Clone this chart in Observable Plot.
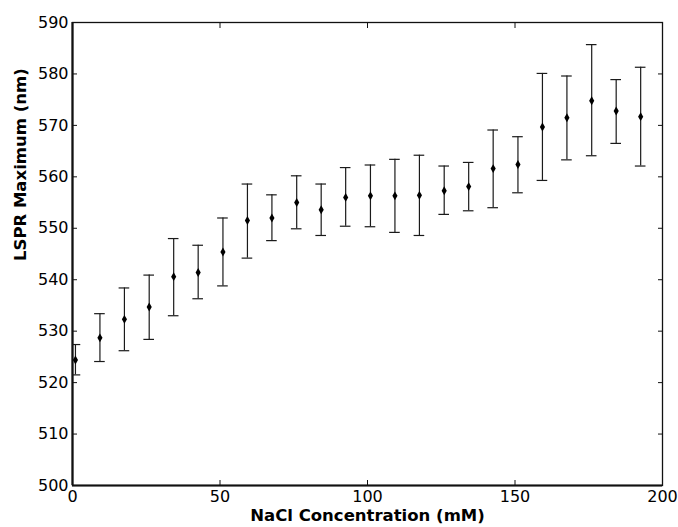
<!DOCTYPE html>
<html>
<head>
<meta charset="utf-8">
<script src="https://cdn.jsdelivr.net/npm/d3@7"></script>
<script src="https://cdn.jsdelivr.net/npm/@observablehq/plot@0.6"></script>
<style>
  html, body { margin: 0; padding: 0; background: #fff; }
</style>
</head>
<body>
<div id="chart"></div>
<script>
const concentration = [1, 9.3, 17.6, 26, 34.3, 42.6, 51, 59.3, 67.6, 76, 84.3, 92.6, 101, 109.3, 117.6, 126, 134.3, 142.6, 151, 159.3, 167.6, 176, 184.3, 192.6];
const lsprMean = [524.4, 528.7, 532.3, 534.7, 540.6, 541.4, 545.4, 551.5, 552.0, 555.0, 553.6, 556.0, 556.3, 556.3, 556.4, 557.3, 558.1, 561.6, 562.4, 569.7, 571.5, 574.8, 572.8, 571.7];
const lsprUpper = [527.4, 533.4, 538.4, 540.9, 548.0, 546.7, 552.0, 558.6, 556.5, 560.2, 558.6, 561.8, 562.3, 563.4, 564.2, 562.1, 562.8, 569.1, 567.8, 580.1, 579.6, 585.7, 578.9, 581.3];
const lsprLower = [521.5, 524.1, 526.2, 528.4, 533.0, 536.3, 538.8, 544.2, 547.6, 549.9, 548.6, 550.4, 550.3, 549.2, 548.6, 552.7, 553.4, 554.0, 556.9, 559.3, 563.3, 564.1, 566.5, 562.1];
const xTicks = [0, 50, 100, 150, 200];
const yTicks = [500, 510, 520, 530, 540, 550, 560, 570, 580, 590];
const xLabel = "NaCl Concentration (mM)";
const yLabel = "LSPR Maximum (nm)";

const data = concentration.map((x, i) => ({x, y: lsprMean[i], lo: lsprLower[i], hi: lsprUpper[i]}));
const capHalf = 1.8;
const noLabel = () => "";

const chart = Plot.plot({
  width: 678,
  height: 527,
  marginLeft: 72,
  marginRight: 16,
  marginTop: 22,
  marginBottom: 42,
  style: {fontFamily: "DejaVu Sans", fontSize: "16px", color: "#000", background: "#fff"},
  x: {domain: [0, 200]},
  y: {domain: [500, 590]},
  marks: [
    Plot.axisX({ticks: xTicks, anchor: "bottom", tickSize: 5, dy: -5, tickFormat: noLabel, label: null, stroke: "#111"}),
    Plot.axisX({ticks: xTicks, anchor: "top", tickSize: 5, dy: 5, tickFormat: noLabel, label: null, stroke: "#111"}),
    Plot.axisY({ticks: yTicks, anchor: "left", tickSize: 5, dx: 5, tickFormat: noLabel, label: null, stroke: "#111"}),
    Plot.axisY({ticks: yTicks, anchor: "right", tickSize: 5, dx: -5, tickFormat: noLabel, label: null, stroke: "#111"}),
    Plot.axisX({ticks: xTicks, anchor: "bottom", tickSize: 0, tickPadding: 5, label: null, fill: "#000"}),
    Plot.axisY({ticks: yTicks, anchor: "left", tickSize: 0, tickPadding: 4, label: null, fill: "#000"}),
    Plot.frame({stroke: "#111", strokeWidth: 1.3}),
    Plot.ruleX([0], {stroke: "#111", strokeWidth: 2.2}),
    Plot.ruleY([500], {stroke: "#111", strokeWidth: 2.2}),
    Plot.ruleX(data, {x: "x", y1: "lo", y2: "hi", stroke: "#1a1a1a", strokeWidth: 1.2}),
    Plot.ruleY(data, {y: "hi", x1: d => d.x - capHalf, x2: d => d.x + capHalf, stroke: "#1a1a1a", strokeWidth: 1.2, clip: true}),
    Plot.ruleY(data, {y: "lo", x1: d => d.x - capHalf, x2: d => d.x + capHalf, stroke: "#1a1a1a", strokeWidth: 1.2, clip: true}),
    Plot.dot(data, {x: "x", y: "y", symbol: "diamond", r: 2.7, fill: "#000", stroke: "none"}),
    Plot.text([xLabel], {frameAnchor: "bottom", dy: 35, lineAnchor: "bottom", fontWeight: "bold", fontSize: 16.5, fill: "#000"}),
    Plot.text([yLabel], {frameAnchor: "left", dx: -52, dy: 7, rotate: -90, lineAnchor: "middle", fontWeight: "bold", fontSize: 16.5, fill: "#000"})
  ]
});
document.getElementById("chart").appendChild(chart);
</script>
</body>
</html>
